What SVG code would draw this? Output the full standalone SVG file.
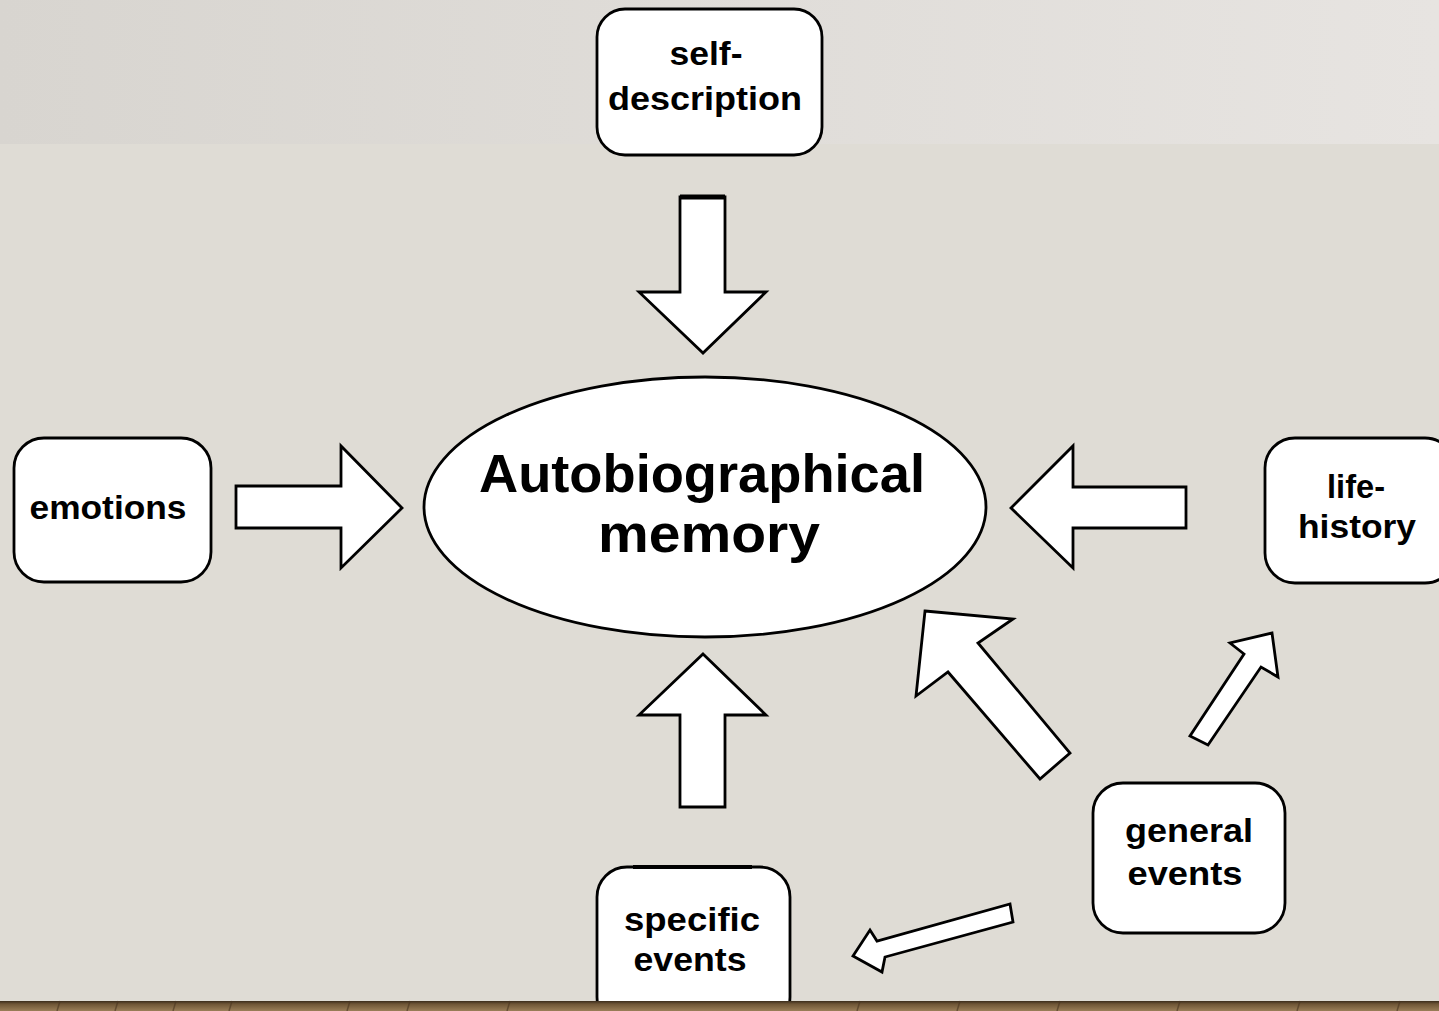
<svg xmlns="http://www.w3.org/2000/svg" width="1439" height="1011" viewBox="0 0 1439 1011">
<defs>
<linearGradient id="topband" x1="0" y1="0" x2="1" y2="0">
<stop offset="0" stop-color="#d8d5d0"/>
<stop offset="1" stop-color="#e7e4e1"/>
</linearGradient>
<linearGradient id="wood" x1="0" y1="0" x2="0" y2="1">
<stop offset="0" stop-color="#3b2c1c"/>
<stop offset="0.3" stop-color="#6e5536"/>
<stop offset="1" stop-color="#9a7e58"/>
</linearGradient>
<style>
.box{fill:#ffffff;stroke:#000000;stroke-width:2.8}
.arrow{fill:#ffffff;stroke:#000000;stroke-width:2.8;stroke-linejoin:miter}
.lbl{font-family:"Liberation Sans",Arial,sans-serif;font-weight:bold;font-size:33px;fill:#000000;text-anchor:middle}
.big{font-family:"Liberation Sans",Arial,sans-serif;font-weight:bold;font-size:54px;fill:#000000;text-anchor:middle}
.grain{stroke:#4a3520;stroke-width:1.5;opacity:0.6}
</style>
</defs>
<rect x="0" y="0" width="1439" height="1011" fill="#dfdcd5"/>
<rect x="0" y="0" width="1439" height="144" fill="url(#topband)"/>

<g id="connectors">
<polygon class="arrow" points="680,197 725,197 725,292 766,292 703,353 639,292 680,292"/>
<line x1="680" y1="197" x2="725" y2="197" stroke="#000" stroke-width="5"/>
<polygon class="arrow" points="236,486 341,486 341,446 402,508 341,568 341,528 236,528"/>
<polygon class="arrow" points="1186,487 1073,487 1073,446 1011,508 1073,568 1073,528 1186,528"/>
<polygon class="arrow" points="703,654 766,715 725,715 725,807 680,807 680,715 639,715"/>
<polygon class="arrow" points="925,611 1013,619 978,643 1070,753 1040,779 948,672 916,696"/>
<polygon class="arrow" points="1272,633 1278,677 1261,667 1208,745 1190,736 1244,654 1230,643"/>
<polygon class="arrow" points="853,956 870,930 877,941 1010,904 1013,922 885,957 882,972"/>
</g>

<g id="node-memory">
<ellipse class="box" cx="705" cy="507" rx="281" ry="130"/>
<text class="big" x="702" y="492" textLength="446" lengthAdjust="spacingAndGlyphs">Autobiographical</text>
<text class="big" x="709" y="552" textLength="222" lengthAdjust="spacingAndGlyphs">memory</text>
</g>

<g id="node-self-description">
<rect class="box" x="597" y="9" width="225" height="146" rx="28" ry="28"/>
<text class="lbl" x="706" y="65" textLength="73" lengthAdjust="spacingAndGlyphs">self-</text>
<text class="lbl" x="705" y="110" textLength="194" lengthAdjust="spacingAndGlyphs">description</text>
</g>

<g id="node-emotions">
<rect class="box" x="14" y="438" width="197" height="144" rx="30" ry="30"/>
<text class="lbl" x="108" y="519" textLength="157" lengthAdjust="spacingAndGlyphs">emotions</text>
</g>

<g id="node-life-history">
<rect class="box" x="1265" y="438" width="190" height="145" rx="30" ry="30"/>
<text class="lbl" x="1356" y="498" textLength="58" lengthAdjust="spacingAndGlyphs">life-</text>
<text class="lbl" x="1357" y="538" textLength="118" lengthAdjust="spacingAndGlyphs">history</text>
</g>

<g id="node-general-events">
<rect class="box" x="1093" y="783" width="192" height="150" rx="30" ry="30"/>
<text class="lbl" x="1189" y="842" textLength="128" lengthAdjust="spacingAndGlyphs">general</text>
<text class="lbl" x="1185" y="885" textLength="115" lengthAdjust="spacingAndGlyphs">events</text>
</g>

<g id="node-specific-events">
<rect class="box" x="597" y="867" width="193" height="160" rx="30" ry="30"/>
<line x1="633" y1="867" x2="752" y2="867" stroke="#000" stroke-width="4"/>
<text class="lbl" x="692" y="931" textLength="136" lengthAdjust="spacingAndGlyphs">specific</text>
<text class="lbl" x="690" y="971" textLength="113" lengthAdjust="spacingAndGlyphs">events</text>
</g>

<rect x="0" y="1001" width="1439" height="10" fill="url(#wood)"/>
<g>
<line class="grain" x1="60" y1="1001" x2="57" y2="1011"/>
<line class="grain" x1="118" y1="1001" x2="115" y2="1011"/>
<line class="grain" x1="176" y1="1001" x2="173" y2="1011"/>
<line class="grain" x1="232" y1="1001" x2="229" y2="1011"/>
<line class="grain" x1="350" y1="1001" x2="347" y2="1011"/>
<line class="grain" x1="410" y1="1001" x2="407" y2="1011"/>
<line class="grain" x1="510" y1="1001" x2="507" y2="1011"/>
<line class="grain" x1="860" y1="1001" x2="857" y2="1011"/>
<line class="grain" x1="960" y1="1001" x2="957" y2="1011"/>
<line class="grain" x1="1060" y1="1001" x2="1057" y2="1011"/>
<line class="grain" x1="1180" y1="1001" x2="1177" y2="1011"/>
<line class="grain" x1="1300" y1="1001" x2="1297" y2="1011"/>
<line class="grain" x1="1400" y1="1001" x2="1397" y2="1011"/>
</g>
</svg>
